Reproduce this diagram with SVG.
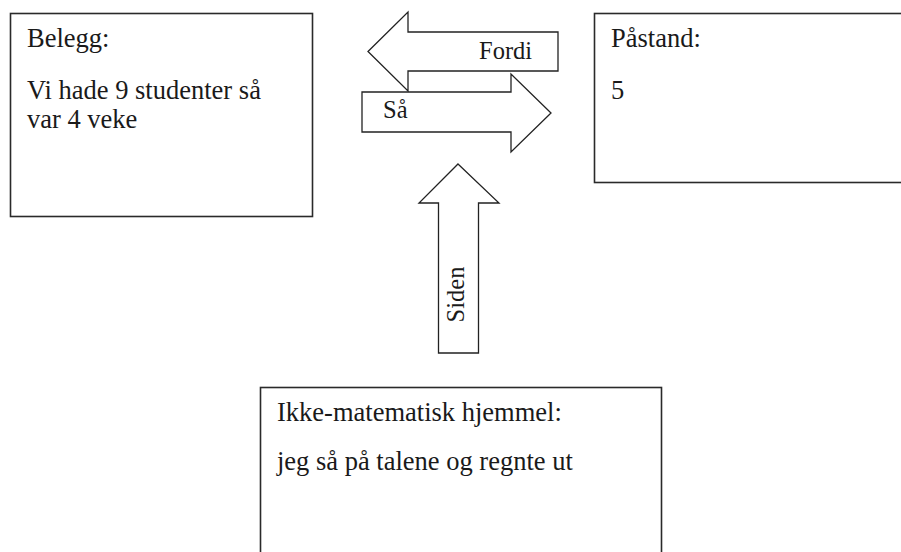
<svg xmlns="http://www.w3.org/2000/svg" width="901" height="552" viewBox="0 0 901 552">
  <style>
    .box { fill: #ffffff; stroke: #2a2a2a; stroke-width: 1.6; }
    .arrow { fill: #ffffff; stroke: #222222; stroke-width: 1.3; stroke-linejoin: miter; }
    text { font-family: 'Liberation Serif', 'Times New Roman', Times, 'DejaVu Serif', serif; fill: #1a1a1a; }
    .txt { font-size: 26.5px; }
    .lbl { font-size: 24.5px; }
  </style>
  <rect width="901" height="552" fill="#ffffff"/>

  <!-- Evidence box -->
  <g id="belegg">
    <rect class="box" x="10.5" y="13.5" width="302" height="203"/>
    <text class="txt" x="27" y="47" font-family="Liberation Serif, serif">Belegg:</text>
    <text class="txt" x="27" y="99" font-family="Liberation Serif, serif">Vi hade 9 studenter så</text>
    <text class="txt" x="27" y="128" font-family="Liberation Serif, serif">var 4 veke</text>
  </g>

  <!-- Claim box (runs off the right edge) -->
  <g id="pastand">
    <rect class="box" x="594.5" y="13.5" width="320" height="169"/>
    <text class="txt" x="611" y="47" font-family="Liberation Serif, serif">Påstand:</text>
    <text class="txt" x="611" y="99" font-family="Liberation Serif, serif">5</text>
  </g>

  <!-- Warrant box (runs off the bottom edge) -->
  <g id="hjemmel">
    <rect class="box" x="260.5" y="387.5" width="401" height="180"/>
    <text class="txt" x="277" y="421" font-family="Liberation Serif, serif">Ikke-matematisk hjemmel:</text>
    <text class="txt" x="277" y="470" font-family="Liberation Serif, serif">jeg så på talene og regnte ut</text>
  </g>

  <!-- Block arrows -->
  <g id="connectors">
    <g id="fordi">
      <path class="arrow" d="M368,51.5 L408,12 L408,32 L558,32 L558,71 L408,71 L408,91 Z"/>
      <text class="lbl" x="479" y="59" font-family="Liberation Serif, serif">Fordi</text>
    </g>
    <g id="saa">
      <path class="arrow" d="M362,92 L511,92 L511,74 L551,113 L511,152 L511,132 L362,132 Z"/>
      <text class="lbl" x="383" y="118" font-family="Liberation Serif, serif">Så</text>
    </g>
    <g id="siden">
      <path class="arrow" d="M458,164 L499,203 L478.5,203 L478.5,353 L438.5,353 L438.5,203 L419,203 Z"/>
      <text class="lbl" transform="translate(464,294.5) rotate(-90)" text-anchor="middle" font-family="Liberation Serif, serif">Siden</text>
    </g>
  </g>
</svg>
